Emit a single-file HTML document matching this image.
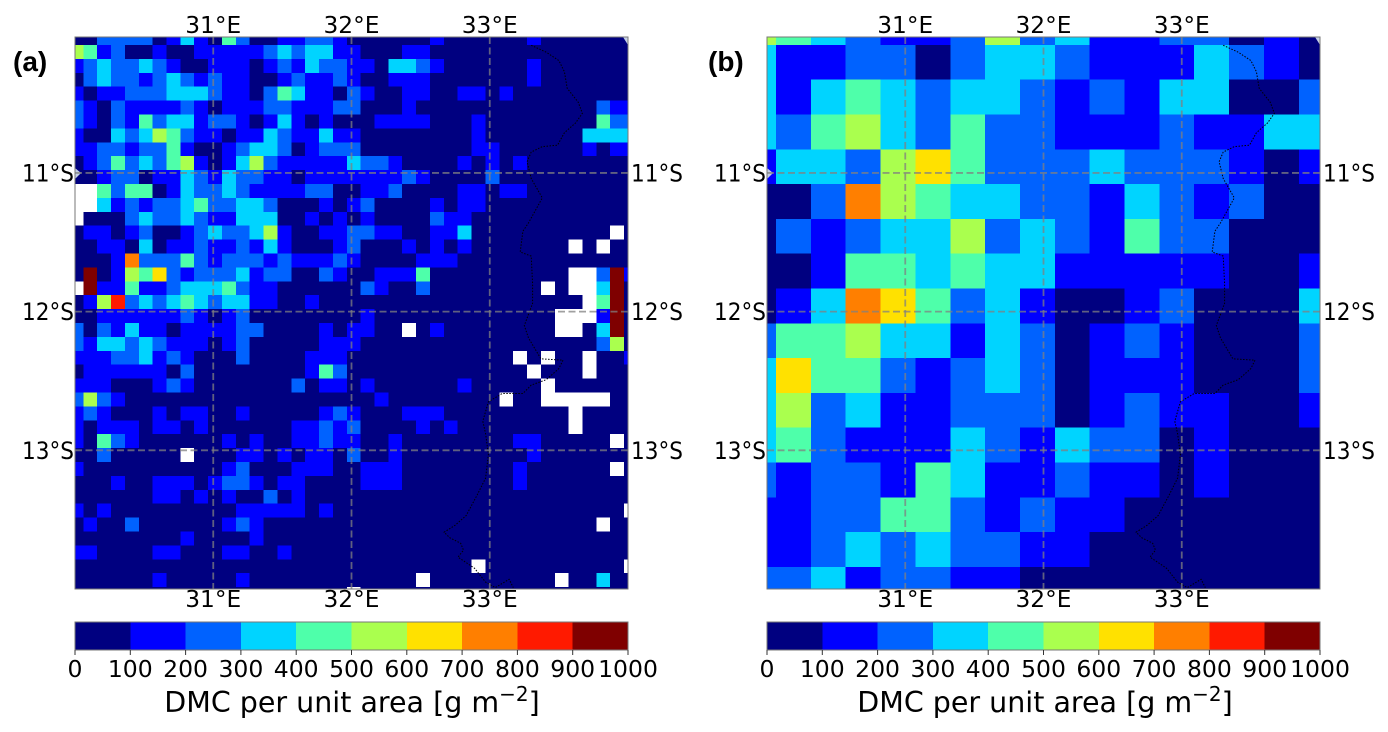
<!DOCTYPE html>
<html lang="en">
<head>
<meta charset="utf-8">
<title>DMC per unit area maps</title>
<style>
html,body{margin:0;padding:0;background:#fff;}
svg{display:block;font-family:"DejaVu Sans","Liberation Sans",sans-serif;fill:#000;filter:blur(0.35px);}
.tick{font-size:23.3px;}
.lat{font-size:21.6px;}
.cbt{font-size:23.5px;}
.ttl{font-size:28.5px;}
.letter{font-family:"Liberation Sans",sans-serif;font-weight:bold;font-size:28px;}
</style>
</head>
<body>
<svg id="fig" width="1388" height="732" viewBox="0 0 1388 732" xmlns="http://www.w3.org/2000/svg">
<rect width="1388" height="732" fill="#fff"/>
<text class="letter" x="13" y="71">(a)</text>
<text class="letter" x="708" y="71">(b)</text>
<text class="ttl" x="352" y="712" text-anchor="middle">DMC per unit area [g m<tspan dy="-11" font-size="20">−2</tspan><tspan dy="11">]</tspan></text>
<text class="ttl" x="1045" y="712" text-anchor="middle">DMC per unit area [g m<tspan dy="-11" font-size="20">−2</tspan><tspan dy="11">]</tspan></text>
</svg>
<script>
const NA = null;
const lonTicks = [31, 32, 33];
const latTicks = [11, 12, 13];
const colorLevels = [0, 100, 200, 300, 400, 500, 600, 700, 800, 900, 1000];
const levelColors = ['#000080', '#0000ff', '#0062ff', '#00d4ff', '#4effaa', '#aaff4e', '#ffe100', '#ff7f00', '#ff1a00', '#7f0000'];
const borderLon = [33.30,33.41,33.50,33.54,33.56,33.64,33.67,33.62,33.54,33.49,33.38,33.30,33.27,33.30,33.38,33.28,33.24,33.22,33.30,33.31,33.31,33.25,33.28,33.37,33.53,33.50,33.41,33.30,33.24,33.09,32.99,32.95,32.97,32.99,32.97,32.91,32.83,32.75,32.67,32.71,32.79,32.81,32.77,32.89,32.97,33.04,33.14,33.17];
const borderLat = [-10.08,-10.13,-10.19,-10.27,-10.39,-10.49,-10.57,-10.64,-10.71,-10.80,-10.81,-10.85,-10.92,-11.04,-11.18,-11.36,-11.42,-11.57,-11.60,-11.80,-11.94,-12.10,-12.19,-12.34,-12.35,-12.41,-12.49,-12.53,-12.59,-12.59,-12.65,-12.79,-12.88,-13.03,-13.20,-13.32,-13.47,-13.54,-13.59,-13.63,-13.67,-13.72,-13.77,-13.85,-13.95,-13.99,-13.93,-13.99];

const dmcPanelA = [
[50,50,250,250,250,250,50,150,350,150,50,450,250,50,50,150,150,250,250,150,50,50,50,50,50,50,150,50,50,50,50,50,50,150,50,50,50,50,50,50,50],
[550,450,150,250,50,50,150,50,50,150,150,150,150,150,250,350,250,350,350,150,150,50,50,50,150,150,50,50,50,50,50,50,50,50,50,50,50,50,50,50,50],
[150,250,350,250,250,350,250,150,50,50,150,150,150,50,150,250,150,350,250,250,150,150,50,350,350,250,150,50,50,50,50,50,50,150,50,50,50,50,50,50,50],
[50,250,350,250,250,150,250,350,250,150,250,150,150,50,50,150,250,150,150,250,150,50,50,150,150,150,50,50,50,50,50,50,50,150,50,50,50,50,50,50,50],
[150,50,150,150,250,250,250,350,350,350,250,150,150,50,250,450,350,150,150,50,250,150,50,50,150,150,50,50,150,150,50,150,50,50,50,50,50,50,50,50,50],
[250,150,50,250,150,150,150,150,250,150,50,150,150,150,250,250,150,150,150,250,250,50,50,50,150,50,50,50,50,50,50,50,50,50,50,50,50,50,250,150,150],
[250,150,50,250,150,450,250,350,350,150,250,250,150,50,150,350,150,50,150,50,50,50,150,150,150,150,50,50,50,150,50,50,50,50,50,50,50,50,450,250,250],
[150,50,50,350,250,350,550,450,250,150,150,50,150,150,350,250,150,150,350,150,150,50,50,50,50,50,50,50,50,150,50,50,50,50,50,50,50,350,350,350,350],
[150,150,250,250,150,250,250,450,150,50,50,150,250,350,350,250,50,150,250,250,250,50,50,50,50,50,50,50,50,150,150,50,50,50,50,50,50,150,50,150,150],
[50,150,250,450,250,350,250,450,550,150,50,150,350,550,250,150,150,150,150,150,350,250,250,150,50,50,50,50,150,50,150,50,150,50,50,50,50,50,50,50,50],
[50,50,150,250,250,50,150,150,350,250,150,350,250,250,150,150,50,150,150,150,150,150,150,150,250,150,50,50,50,50,250,50,50,50,50,50,50,50,50,50,50],
[NA,NA,450,250,450,450,50,150,350,250,250,350,250,150,150,150,150,250,250,50,50,150,150,250,50,50,50,50,150,150,50,150,150,50,50,50,50,50,50,50,50],
[NA,NA,350,150,250,150,250,250,350,450,250,250,350,350,250,50,50,50,150,50,150,250,50,50,50,50,150,50,150,150,50,50,50,50,50,50,50,50,50,50,50],
[NA,50,50,50,250,350,250,250,350,250,150,150,350,350,350,50,50,150,50,150,50,150,50,50,50,50,250,150,150,50,50,50,50,50,50,50,50,50,50,50,50],
[50,150,150,50,150,250,50,50,150,250,350,250,250,350,550,150,50,50,150,150,250,250,150,150,50,50,150,150,350,50,50,50,50,50,50,50,50,50,50,NA,50],
[50,50,150,150,50,350,50,150,150,250,150,150,250,150,350,150,50,50,50,150,250,50,50,50,150,50,150,50,150,50,50,50,50,50,50,50,NA,50,NA,50,50],
[50,50,50,150,750,250,250,250,450,250,150,250,250,250,150,250,150,150,150,250,150,50,50,50,50,150,150,150,50,50,50,50,50,50,50,50,50,50,50,50,50],
[50,950,50,150,550,450,650,250,150,250,250,250,350,150,250,250,50,50,250,150,50,50,150,150,150,450,50,50,50,50,50,50,50,50,50,50,NA,NA,250,950,150],
[NA,950,150,150,450,150,150,250,350,350,350,450,250,150,150,50,50,50,50,50,50,250,150,50,50,250,50,50,50,50,50,50,50,50,NA,50,NA,NA,350,950,50],
[50,150,550,850,250,350,250,350,450,350,250,350,350,150,150,50,50,150,50,50,50,50,50,50,50,50,50,50,50,50,50,50,50,50,50,50,50,NA,450,950,50],
[50,50,150,150,150,150,150,150,250,150,50,150,250,50,50,50,50,50,50,50,50,150,50,50,50,50,50,50,50,50,50,50,50,50,50,NA,NA,NA,150,950,50],
[250,50,250,150,350,150,150,50,150,150,150,150,250,250,50,50,50,50,150,50,150,150,50,50,NA,50,150,50,50,50,50,50,50,50,50,NA,NA,50,350,950,50],
[250,150,350,350,250,350,250,150,150,150,50,150,250,50,50,50,50,50,150,150,150,50,50,50,50,50,50,50,50,50,50,50,50,50,50,50,50,50,250,550,50],
[150,150,150,250,250,350,150,250,150,50,50,50,250,50,50,50,50,150,150,150,50,50,50,50,50,50,50,50,50,50,50,50,NA,50,NA,50,50,NA,50,50,150],
[50,150,150,150,150,150,150,50,250,50,50,50,50,50,50,50,50,150,450,250,50,50,50,50,50,50,50,50,50,50,50,50,50,NA,50,50,50,NA,50,50,50],
[150,150,150,50,50,50,150,250,150,50,50,50,50,50,50,50,250,50,150,150,50,150,50,50,50,50,50,50,150,50,50,50,50,50,NA,50,50,50,50,50,50],
[250,550,250,150,50,50,50,50,50,50,50,50,50,50,50,50,50,50,50,50,50,50,150,50,50,50,50,50,50,50,50,NA,50,50,NA,NA,NA,NA,NA,50,50],
[150,250,150,50,50,50,150,50,150,150,50,50,150,50,50,50,50,50,150,250,150,50,50,50,150,150,150,50,50,50,50,50,50,50,50,50,NA,50,50,50,50],
[150,50,150,150,150,50,150,150,50,150,50,50,50,50,50,50,150,150,250,150,250,50,50,50,50,150,50,150,50,50,50,50,50,50,50,50,NA,50,50,50,50],
[150,50,450,250,150,50,50,50,50,50,50,150,50,150,50,50,150,150,250,150,150,50,50,150,50,50,50,50,50,50,50,50,150,150,50,50,50,50,50,NA,50],
[50,50,250,50,50,50,50,50,NA,50,50,50,150,150,50,150,50,150,150,50,250,50,50,150,50,50,50,50,50,50,50,50,50,150,50,50,50,50,50,50,50],
[150,50,50,50,50,50,50,50,50,50,50,150,250,50,50,50,150,150,150,50,50,150,150,150,50,50,50,50,50,50,50,50,150,50,50,50,50,50,50,NA,50],
[50,50,50,150,50,50,150,150,150,50,150,250,250,150,50,150,150,50,50,50,50,150,150,150,50,50,50,50,50,50,50,50,150,50,50,50,50,50,50,50,50],
[50,50,50,50,50,50,150,150,50,150,50,150,50,50,250,50,150,50,50,50,50,50,50,50,50,50,50,50,50,50,50,50,50,50,50,50,50,50,50,50,50],
[150,50,150,50,50,50,50,50,50,50,50,50,150,150,150,150,150,50,150,50,50,50,50,50,50,50,50,50,50,50,50,50,50,50,50,50,50,50,50,50,NA],
[50,150,50,50,250,50,50,50,50,50,50,150,250,150,50,50,50,50,50,50,50,50,50,50,50,50,50,50,50,50,50,50,50,50,50,50,50,50,NA,50,50],
[50,50,50,50,50,50,50,50,150,50,50,50,50,150,50,50,50,50,50,50,50,50,50,50,50,50,50,50,50,50,50,50,50,50,50,50,50,50,50,50,50],
[150,150,50,50,50,50,150,150,50,50,50,150,150,50,50,150,50,50,50,50,50,50,50,50,50,50,50,50,50,50,50,50,50,50,50,50,50,50,50,50,50],
[50,50,50,50,50,50,50,50,50,50,50,50,50,50,50,50,50,50,50,50,50,50,50,50,50,50,50,50,50,NA,50,50,50,50,50,50,50,50,50,50,NA],
[50,50,50,50,50,50,150,50,50,50,50,50,150,50,50,50,50,50,50,50,50,50,50,50,50,NA,50,50,50,50,50,50,50,50,50,NA,50,50,350,50,50],
[50,50,50,50,50,50,50,50,50,50,50,50,50,50,50,50,50,50,50,50,NA,50,50,50,50,50,50,50,50,50,50,50,50,50,50,50,50,50,50,50,50]
];

const dmcPanelB = [
[550,450,350,250,150,150,250,550,250,350,150,150,250,250,50,150,50],
[350,150,150,250,250,50,250,350,350,250,150,150,150,350,250,150,50],
[350,150,350,450,350,250,350,350,250,150,250,150,350,350,50,50,250],
[350,250,450,550,350,250,450,250,250,150,150,150,250,150,150,350,350],
[150,350,350,250,550,650,450,250,250,250,350,250,250,250,150,50,150],
[50,50,250,750,550,450,350,350,250,250,150,350,250,150,250,50,50],
[50,250,150,250,350,350,550,250,350,250,150,450,250,250,50,50,50],
[50,50,150,450,450,350,450,350,350,150,150,150,150,150,50,50,150],
[50,150,350,750,650,450,250,350,150,50,50,150,250,50,50,50,350],
[250,450,450,550,350,350,150,350,250,50,150,250,150,50,50,50,250],
[350,650,450,450,250,150,250,350,250,50,150,150,150,50,50,50,250],
[350,550,250,350,150,150,250,250,250,50,150,250,150,150,50,50,150],
[350,450,250,150,150,150,350,250,150,350,250,250,50,150,50,50,50],
[250,150,250,250,150,450,350,150,150,250,150,150,50,150,50,50,50],
[150,150,250,250,450,450,250,150,250,150,150,50,50,50,50,50,50],
[150,150,250,350,250,350,250,250,150,150,50,50,50,50,50,50,50],
[250,250,350,150,250,250,150,150,50,50,50,50,50,50,50,50,50]
];

const SVGNS = 'http://www.w3.org/2000/svg';
const fig = document.getElementById('fig');
const AXIS_TOP = 37, AXIS_BOTTOM = 589, AXIS_WIDTH = 553;
const PX_PER_LON = 138.25, PX_PER_LAT = 138.7;

function make(tag, attrs, parent) {
  const el = document.createElementNS(SVGNS, tag);
  for (const k in attrs) el.setAttribute(k, attrs[k]);
  (parent || fig).appendChild(el);
  return el;
}
function xScale(left, lon) { return left + (lon - 30) * PX_PER_LON; }
function yScale(lat) { return AXIS_TOP + (-10.02 - lat) * PX_PER_LAT; }
function colorFor(v) {
  if (v === null) return null;
  for (let i = levelColors.length - 1; i >= 0; i--) if (v >= colorLevels[i]) return levelColors[i];
  return levelColors[0];
}

function drawPanel(key, left, grid, lon0, lat0, dLon, dLat) {
  const right = left + AXIS_WIDTH;
  const defs = make('defs', {});
  const cp = make('clipPath', { id: 'clip-' + key }, defs);
  make('rect', { x: left, y: AXIS_TOP, width: AXIS_WIDTH, height: AXIS_BOTTOM - AXIS_TOP }, cp);

  const map = make('g', { 'clip-path': 'url(#clip-' + key + ')' });
  
  

  grid.forEach(function (row, r) {
    row.forEach(function (v, c) {
      const col = colorFor(v);
      if (col === null) return;
      const x0 = xScale(left, lon0 + (c - 1) * dLon);
      const x1 = xScale(left, lon0 + c * dLon);
      const y0 = yScale(lat0 - (r - 1) * dLat);
      const y1 = yScale(lat0 - r * dLat);
      const cell = make('rect', { x: x0, y: y0, width: x1 - x0, height: y1 - y0, fill: col, 'shape-rendering': 'crispEdges' }, map);
      
      
    });
  });

  const pts = borderLon.map(function (lo, i) { return xScale(left, lo).toFixed(1) + ',' + yScale(borderLat[i]).toFixed(1); }).join(' ');
  const border = make('polyline', { points: pts, fill: 'none', stroke: '#000', 'stroke-width': 1, 'stroke-dasharray': '1.5 1.5' }, map);
  
  

  const lake1 = make('path', { d: 'M' + (right - 5) + ' ' + AXIS_TOP + 'l5 0l0 8z', fill: '#c4cfe6' }, map);
  
  
  const lake2 = make('path', { d: 'M' + left + ' 168l6 5l-6 6z', fill: '#c4cfe6' }, map);
  
  

  lonTicks.forEach(function (lon) {
    const x = xScale(left, lon);
    const line = make('line', { x1: x, x2: x, y1: AXIS_TOP, y2: AXIS_BOTTOM, stroke: '#808080', 'stroke-opacity': 0.75, 'stroke-width': 1.8, 'stroke-dasharray': '7 3.5' });
    
    
    [33, 607].forEach(function (yy) {
      const t = make('text', { x: x, y: yy, 'text-anchor': 'middle', class: 'tick' });
      
      
      t.textContent = lon + '°E';
    });
  });
  latTicks.forEach(function (lat) {
    const y = yScale(-lat);
    const line = make('line', { x1: left, x2: right, y1: y, y2: y, stroke: '#808080', 'stroke-opacity': 0.75, 'stroke-width': 1.8, 'stroke-dasharray': '7 3.5' });
    
    
    const tl = make('text', { 'text-anchor': 'end', class: 'lat', transform: 'translate(' + (left - 1) + ' ' + (y + 8.6) + ') scale(1 1.12)' });
    
    
    tl.textContent = lat + '°S';
    const tr = make('text', { class: 'lat', transform: 'translate(' + (right + 3) + ' ' + (y + 8.6) + ') scale(1 1.12)' });
    
    
    tr.textContent = lat + '°S';
  });

  const frame = make('rect', { x: left, y: AXIS_TOP, width: AXIS_WIDTH, height: AXIS_BOTTOM - AXIS_TOP, fill: 'none', stroke: '#777', 'stroke-width': 1 });
  
  

  // colour bar
  const barTop = 622, barBottom = 650;
  const cbX = function (v) { return left + v / 1000 * AXIS_WIDTH; };
  levelColors.forEach(function (col, i) {
    const seg = make('rect', { x: cbX(colorLevels[i]), y: barTop, width: cbX(colorLevels[i + 1]) - cbX(colorLevels[i]), height: barBottom - barTop, fill: col, 'shape-rendering': 'crispEdges' });
    
    
  });
  const cbFrame = make('rect', { x: left, y: barTop, width: AXIS_WIDTH, height: barBottom - barTop, fill: 'none', stroke: '#777', 'stroke-width': 1 });
  
  
  colorLevels.forEach(function (v) {
    const x = cbX(v);
    const tk = make('line', { x1: x, x2: x, y1: barBottom, y2: barBottom + 5, stroke: '#333', 'stroke-width': 1 });
    
    
    const lb = make('text', { x: x, y: 677, 'text-anchor': 'middle', class: 'cbt' });
    
    
    lb.textContent = v;
  });
}

drawPanel('a', 75, dmcPanelA, 30.06, -10.078, 0.1003, 0.1002);
drawPanel('b', 767, dmcPanelB, 30.065, -10.077, 0.2521, 0.2509);
</script>
</body>
</html>
